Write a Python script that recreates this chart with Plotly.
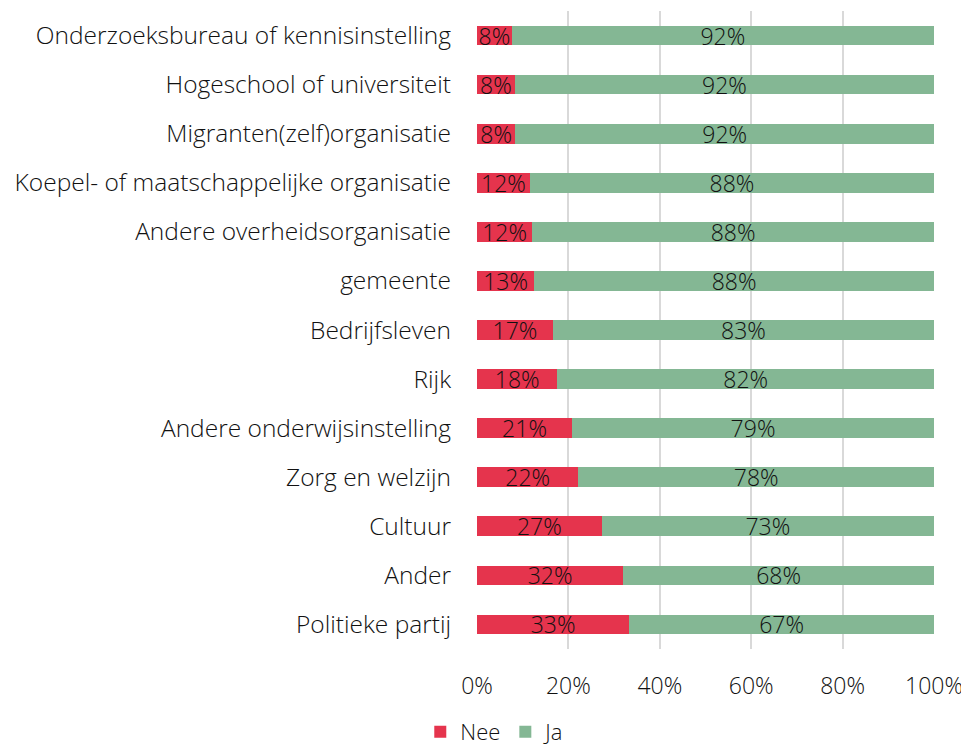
import plotly.graph_objects as go

categories = [
    "Onderzoeksbureau of kennisinstelling",
    "Hogeschool of universiteit",
    "Migranten(zelf)organisatie",
    "Koepel- of maatschappelijke organisatie",
    "Andere overheidsorganisatie",
    "gemeente",
    "Bedrijfsleven",
    "Rijk",
    "Andere onderwijsinstelling",
    "Zorg en welzijn",
    "Cultuur",
    "Ander",
    "Politieke partij",
]
nee = [7.6, 8.3, 8.4, 11.6, 12.1, 12.5, 16.6, 17.6, 20.8, 22.2, 27.3, 32.0, 33.3]
ja = [92.4, 91.7, 91.6, 88.4, 87.9, 87.5, 83.4, 82.4, 79.2, 77.8, 72.7, 68.0, 66.7]
nee_labels = ["8%", "8%", "8%", "12%", "12%", "13%", "17%", "18%", "21%", "22%", "27%", "32%", "33%"]
ja_labels = ["92%", "92%", "92%", "88%", "88%", "88%", "83%", "82%", "79%", "78%", "73%", "68%", "67%"]
x_ticks = [0, 20, 40, 60, 80, 100]
x_tick_labels = ["0%", "20%", "40%", "60%", "80%", "100%"]

FONT = "Open Sans"
FS = 23
W = 300
TXT = "#111111"
RED = "#E5344D"
GREEN = "#84B794"

fig = go.Figure()
fig.add_trace(go.Bar(
    y=categories, x=nee, name="Nee", orientation="h",
    marker=dict(color=RED, line=dict(width=0)),
    text=nee_labels, textposition="inside", insidetextanchor="middle",
    constraintext="none", textangle=0,
    textfont=dict(family=FONT, size=FS, color=TXT, weight=W),
))
fig.add_trace(go.Bar(
    y=categories, x=ja, name="Ja", orientation="h",
    marker=dict(color=GREEN, line=dict(width=0)),
    text=ja_labels, textposition="inside", insidetextanchor="middle",
    constraintext="none", textangle=0,
    textfont=dict(family=FONT, size=FS, color=TXT, weight=W),
))

fig.update_layout(
    barmode="stack",
    bargap=0.6,
    width=961, height=740,
    margin=dict(l=469, r=35, t=3, b=99, autoexpand=False),
    paper_bgcolor="white", plot_bgcolor="white",
    font=dict(family=FONT, size=FS, color=TXT, weight=W),
    legend=dict(
        orientation="h", traceorder="normal",
        x=0.04, xanchor="center", y=-0.13, yanchor="middle",
        font=dict(family=FONT, size=22, color=TXT, weight=W),
        itemwidth=30, tracegroupgap=0,
    ),
    xaxis=dict(
        range=[0, 100], tickvals=x_ticks, ticktext=x_tick_labels,
        showgrid=True, gridcolor="#D9D9D9", gridwidth=2,
        zeroline=False, showline=False, ticks="",
        ticklabelstandoff=21,
        tickfont=dict(family=FONT, size=FS, color=TXT, weight=W),
        fixedrange=True,
    ),
    yaxis=dict(
        categoryorder="array", categoryarray=categories[::-1],
        autorange=True, showgrid=False, zeroline=False, showline=False,
        ticks="", ticklabelstandoff=25,
        tickfont=dict(family=FONT, size=24.5, color=TXT, weight=W),
    ),
)

fig.write_html("out.html")
